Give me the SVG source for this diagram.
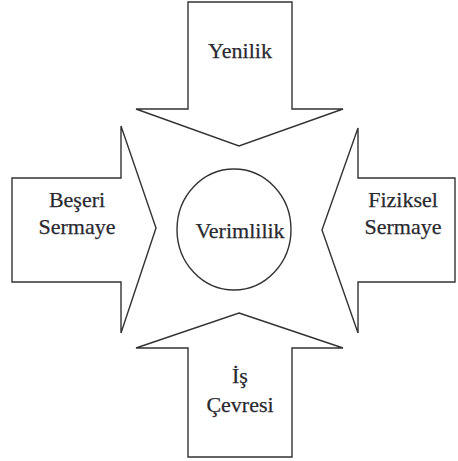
<svg xmlns="http://www.w3.org/2000/svg" width="458" height="461" viewBox="0 0 458 461">
<style>
.arrow{fill:#fff;stroke:#333;stroke-width:1.4;stroke-linejoin:miter}
.lbl{font-family:'Liberation Serif','DejaVu Serif',serif;font-size:22px;fill:#2a2a30;stroke:#2a2a30;stroke-width:0.25;text-anchor:middle}
</style>
<rect width="458" height="461" fill="#fff"/>
<g id="connectors">
<g id="arrow-yenilik"><path class="arrow" d="M188,2 H292 V109 H343 L239,146 L136,109 H188 Z"/></g>
<g id="arrow-beseri"><path class="arrow" d="M12,178 H121 V126 L156,228 L121,333 V282 H12 Z"/></g>
<g id="arrow-fiziksel"><path class="arrow" d="M455,178 H358 V128 L322,230 L358,333 V282 H455 Z"/></g>
<g id="arrow-is"><path class="arrow" d="M239,313 L343,348 H292 V457 H188 V348 H136 L239,313 Z"/></g>
</g>
<g id="node-yenilik"><text class="lbl" x="240" y="58" font-family="Liberation Serif, serif">Yenilik</text></g>
<g id="node-beseri"><text class="lbl" x="77" y="207" font-family="Liberation Serif, serif">Beşeri</text><text class="lbl" x="77" y="234" font-family="Liberation Serif, serif">Sermaye</text></g>
<g id="node-fiziksel"><text class="lbl" x="403" y="207" font-family="Liberation Serif, serif">Fiziksel</text><text class="lbl" x="403" y="234" font-family="Liberation Serif, serif">Sermaye</text></g>
<g id="node-is"><text class="lbl" x="240" y="383" font-family="Liberation Serif, serif">İş</text><text class="lbl" x="240" y="412" font-family="Liberation Serif, serif">Çevresi</text></g>
<g id="node-verimlilik"><ellipse cx="234" cy="229.5" rx="57" ry="60.5" fill="#fff" stroke="#333" stroke-width="1.4"/><text class="lbl" x="240" y="238" font-family="Liberation Serif, serif">Verimlilik</text></g>
</svg>
